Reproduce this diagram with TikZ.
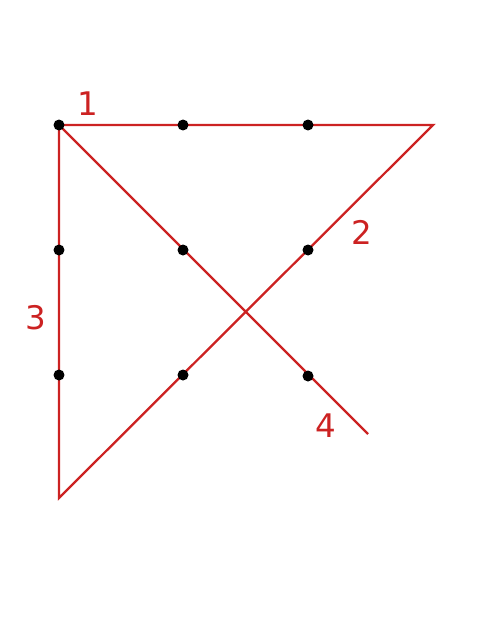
\documentclass[tikz,border=0pt]{standalone}
\usepackage{fontspec}
\setmainfont{DejaVu Sans}
\usepackage{tikz}
\usetikzlibrary{positioning}
\definecolor{puzred}{HTML}{CC2222}

\begin{document}
\begin{tikzpicture}[
    x=0.02cm, y=-0.02cm,
    dot/.style={circle, fill=black, inner sep=0pt, minimum size=0.22cm},
    stroke/.style={puzred, line width=1.3pt, line join=miter},
    num/.style={text=puzred, font=\fontsize{18.5}{20}\selectfont, inner sep=0pt},
]
    \useasboundingbox (0,0) rectangle (500,625);

    % Ends of the strokes
    \coordinate (tl) at (59,125);
    \coordinate (tr) at (433,125);
    \coordinate (bl) at (59,498);
    \coordinate (tail) at (368,434);

    % The four strokes
    \draw[stroke] (tl) -- (tr) -- (bl) -- (tl) -- (tail);

    % Nine dots
    \node[dot] (d11) at (59,125) {};
    \node[dot] (d12) at (183,125) {};
    \node[dot] (d13) at (308,125) {};
    \node[dot] (d21) at (59,250) {};
    \node[dot] (d22) at (183,250) {};
    \node[dot] (d23) at (308,250) {};
    \node[dot] (d31) at (59,375) {};
    \node[dot] (d32) at (183,375) {};
    \node[dot] (d33) at (308,376) {};

    % Stroke numbers
    \node[num] (n1) at (88,104) {1};
    \node[num] (n2) at (362,232) {2};
    \node[num] (n3) at (36,318) {3};
    \node[num] (n4) at (326,426) {4};
\end{tikzpicture}
\end{document}
